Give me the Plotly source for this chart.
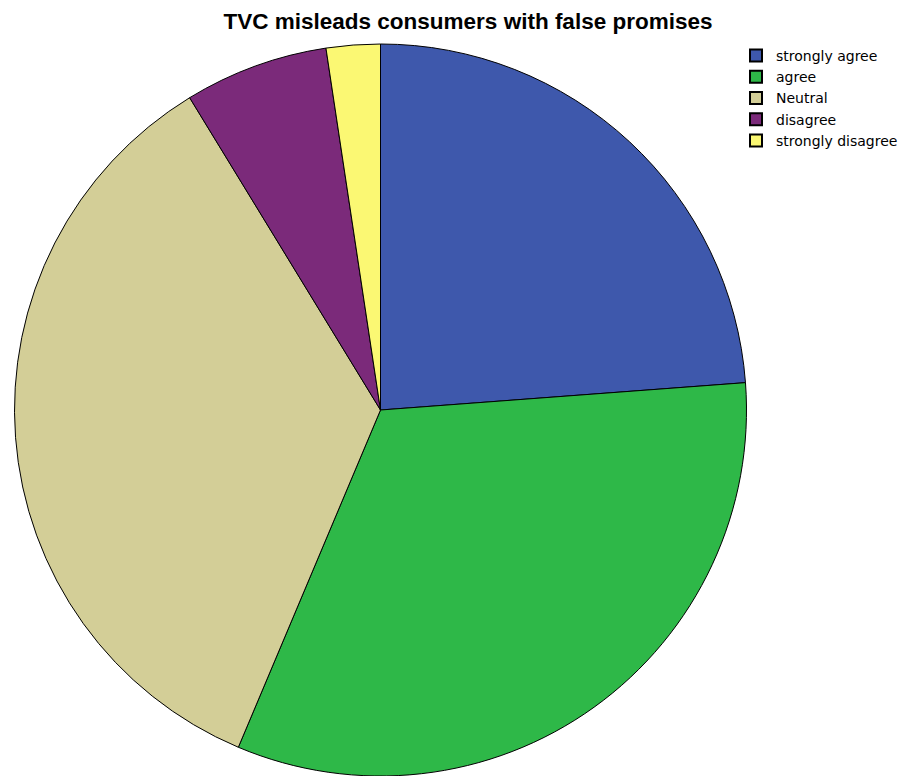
import plotly.graph_objects as go

# Survey responses: "TVC misleads consumers with false promises"
categories = ["strongly agree", "agree", "Neutral", "disagree", "strongly disagree"]
counts = [30, 41, 44, 8, 3]
colors = ["#3E58AC", "#2EB848", "#D3CE97", "#7B2A7A", "#FBF873"]

W, H = 907, 776

fig = go.Figure(
    go.Pie(
        labels=categories,
        values=counts,
        sort=False,
        direction="clockwise",
        rotation=0,
        textinfo="none",
        marker=dict(colors=colors, line=dict(color="#000000", width=1)),
        domain=dict(x=[14 / W, 747 / W], y=[0, 1 - 44 / H]),
    )
)

fig.update_layout(
    width=W,
    height=H,
    margin=dict(l=0, r=0, t=0, b=0),
    paper_bgcolor="white",
    plot_bgcolor="white",
    font=dict(family="Liberation Sans, Arial, sans-serif", color="#000000"),
    title=dict(
        text="<b>TVC misleads consumers with false promises</b>",
        x=468 / W,
        xanchor="center",
        y=1 - 21 / H,
        yanchor="middle",
        font=dict(size=22.5, color="#000000"),
    ),
    legend=dict(
        x=736 / W,
        xanchor="left",
        y=1 - 40 / H,
        yanchor="top",
        font=dict(family="DejaVu Sans, sans-serif", size=14, color="#000000"),
        bgcolor="rgba(0,0,0,0)",
        tracegroupgap=0,
        itemsizing="constant",
    ),
)

fig.write_html("out.html")
